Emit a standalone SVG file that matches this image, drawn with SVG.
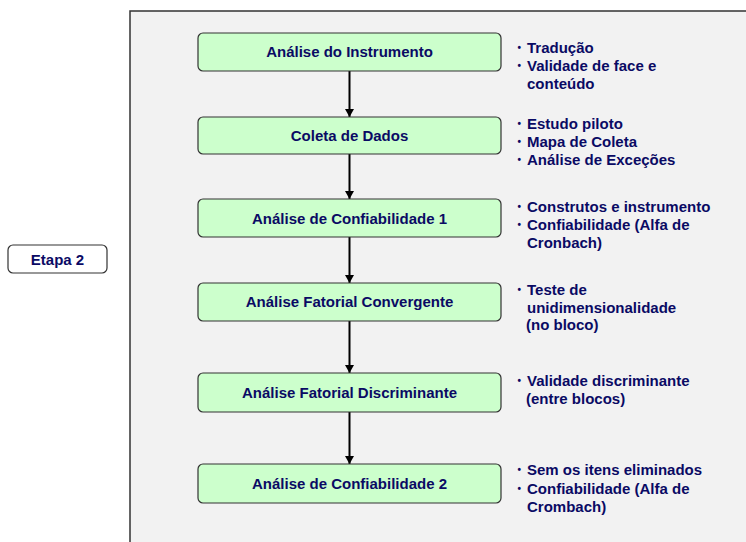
<svg xmlns="http://www.w3.org/2000/svg" width="746" height="542" viewBox="0 0 746 542">
<defs>
<style>
.frame{fill:#f2f2f2;stroke:#333;stroke-width:1.5}
.box{fill:#ccffcc;stroke:#333;stroke-width:1.2}
.etapa{fill:#fff;stroke:#333;stroke-width:1.2}
.lbl{font-family:"Liberation Sans",Arial,sans-serif;font-weight:bold;font-size:15px;fill:#0a0a64;text-anchor:middle}
.note{font-family:"Liberation Sans",Arial,sans-serif;font-weight:bold;font-size:15px;fill:#0a0a64}
.bul{font-size:10px}
.conn{stroke:#000;stroke-width:2;fill:none;marker-end:url(#ah)}
</style>
<marker id="ah" viewBox="0 0 8 9" refX="8" refY="4.5" markerWidth="8" markerHeight="9" markerUnits="userSpaceOnUse" orient="auto-start-reverse">
<path d="M0,0 L8,4.5 L0,9 Z" fill="#000"/>
</marker>
</defs>
<rect width="746" height="542" fill="#fff"/>
<rect class="frame" x="130" y="11" width="700" height="600"/>

<g id="etapa2">
<rect class="etapa" x="8" y="245" width="99" height="28" rx="5"/>
<text class="lbl" x="57.5" y="265">Etapa 2</text>
</g>

<g id="connectors">
<line class="conn" x1="349.5" y1="71" x2="349.5" y2="117"/>
<line class="conn" x1="349.5" y1="154" x2="349.5" y2="199"/>
<line class="conn" x1="349.5" y1="237" x2="349.5" y2="283"/>
<line class="conn" x1="349.5" y1="321" x2="349.5" y2="373"/>
<line class="conn" x1="349.5" y1="412" x2="349.5" y2="464"/>
</g>

<g id="n1">
<rect class="box" x="198" y="33" width="303" height="38" rx="5"/>
<text class="lbl" x="349.5" y="57">Análise do Instrumento</text>
<text class="note" x="517.5" y="53"><tspan class="bul" dy="-2">•</tspan><tspan x="527" dy="2">Tradução</tspan></text>
<text class="note" x="517.5" y="71"><tspan class="bul" dy="-2">•</tspan><tspan x="527" dy="2">Validade de face e</tspan></text>
<text class="note" x="527" y="88.5">conteúdo</text>
</g>

<g id="n2">
<rect class="box" x="198" y="117" width="303" height="37" rx="5"/>
<text class="lbl" x="349.5" y="140.5">Coleta de Dados</text>
<text class="note" x="517.5" y="128.5"><tspan class="bul" dy="-2">•</tspan><tspan x="527" dy="2">Estudo piloto</tspan></text>
<text class="note" x="517.5" y="146.5"><tspan class="bul" dy="-2">•</tspan><tspan x="527" dy="2">Mapa de Coleta</tspan></text>
<text class="note" x="517.5" y="165"><tspan class="bul" dy="-2">•</tspan><tspan x="527" dy="2">Análise de Exceções</tspan></text>
</g>

<g id="n3">
<rect class="box" x="198" y="199" width="303" height="38" rx="5"/>
<text class="lbl" x="349.5" y="223.5">Análise de Confiabilidade 1</text>
<text class="note" x="517.5" y="211.5"><tspan class="bul" dy="-2">•</tspan><tspan x="527" dy="2">Construtos e instrumento</tspan></text>
<text class="note" x="517.5" y="230"><tspan class="bul" dy="-2">•</tspan><tspan x="527" dy="2">Confiabilidade (Alfa de</tspan></text>
<text class="note" x="527" y="247.5">Cronbach)</text>
</g>

<g id="n4">
<rect class="box" x="198" y="283" width="303" height="38" rx="5"/>
<text class="lbl" x="349.5" y="307">Análise Fatorial Convergente</text>
<text class="note" x="517.5" y="295"><tspan class="bul" dy="-2">•</tspan><tspan x="527" dy="2">Teste de</tspan></text>
<text class="note" x="527" y="312.5">unidimensionalidade</text>
<text class="note" x="526" y="330">(no bloco)</text>
</g>

<g id="n5">
<rect class="box" x="198" y="373" width="303" height="39" rx="5"/>
<text class="lbl" x="349.5" y="397.5">Análise Fatorial Discriminante</text>
<text class="note" x="517.5" y="386"><tspan class="bul" dy="-2">•</tspan><tspan x="527" dy="2">Validade discriminante</tspan></text>
<text class="note" x="526" y="403.5">(entre blocos)</text>
</g>

<g id="n6">
<rect class="box" x="198" y="464" width="303" height="39" rx="5"/>
<text class="lbl" x="349.5" y="488.5">Análise de Confiabilidade 2</text>
<text class="note" x="517.5" y="475"><tspan class="bul" dy="-2">•</tspan><tspan x="527" dy="2">Sem os itens eliminados</tspan></text>
<text class="note" x="517.5" y="494"><tspan class="bul" dy="-2">•</tspan><tspan x="527" dy="2">Confiabilidade (Alfa de</tspan></text>
<text class="note" x="527" y="512">Crombach)</text>
</g>
</svg>
